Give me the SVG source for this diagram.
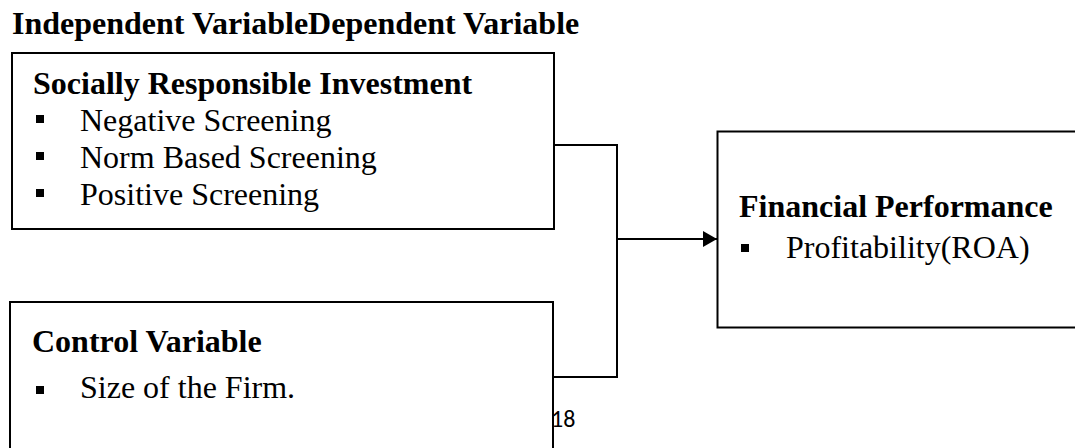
<svg xmlns="http://www.w3.org/2000/svg" width="1075" height="448" viewBox="0 0 1075 448">
  <defs>
    <style>
      .box { fill: #ffffff; stroke: #000000; stroke-width: 2; }
      .conn { fill: none; stroke: #000000; stroke-width: 2; }
      .hd { font-family: "Liberation Serif", "Times New Roman", serif; font-weight: bold; font-size: 32px; fill: #000000; }
      .it { font-family: "Liberation Serif", "Times New Roman", serif; font-size: 32px; fill: #000000; }
      .bul { fill: #000000; }
      .pg { font-family: Carlito, Calibri, "Liberation Sans", sans-serif; font-size: 24px; fill: #000000; }
    </style>
    <marker id="arrow" viewBox="0 0 14 16" refX="14" refY="8" markerWidth="14" markerHeight="16" markerUnits="userSpaceOnUse" orient="auto">
      <path d="M0,0 L14,8 L0,16 Z" fill="#000000"/>
    </marker>
  </defs>
  <rect width="1075" height="448" fill="#ffffff"/>

  <text class="hd" x="12" y="34">Independent VariableDependent Variable</text>

  <g id="sri">
    <rect class="box" x="12" y="53" width="542" height="176"/>
    <text class="hd" x="33" y="94">Socially Responsible Investment</text>
    <rect class="bul" x="36" y="115" width="8" height="8"/>
    <text class="it" x="80" y="131">Negative Screening</text>
    <rect class="bul" x="36" y="152" width="8" height="8"/>
    <text class="it" x="80" y="168">Norm Based Screening</text>
    <rect class="bul" x="36" y="189" width="8" height="8"/>
    <text class="it" x="80" y="205">Positive Screening</text>
  </g>

  <g id="control">
    <rect class="box" x="10" y="302" width="543" height="170"/>
    <text class="hd" x="32" y="352">Control Variable</text>
    <rect class="bul" x="36" y="386" width="8" height="8"/>
    <text class="it" x="80" y="398">Size of the Firm.</text>
  </g>

  <g id="performance">
    <rect class="box" x="717.5" y="131.5" width="380" height="196"/>
    <text class="hd" x="739" y="217">Financial Performance</text>
    <rect class="bul" x="741" y="244" width="8" height="8"/>
    <text class="it" x="786" y="258">Profitability(ROA)</text>
  </g>

  <g id="connectors">
    <polyline class="conn" points="554,145 617,145 617,377 553,377"/>
    <line class="conn" x1="617" y1="239" x2="717" y2="239" marker-end="url(#arrow)"/>
  </g>

  <text class="pg" x="551" y="427">18</text>
</svg>
